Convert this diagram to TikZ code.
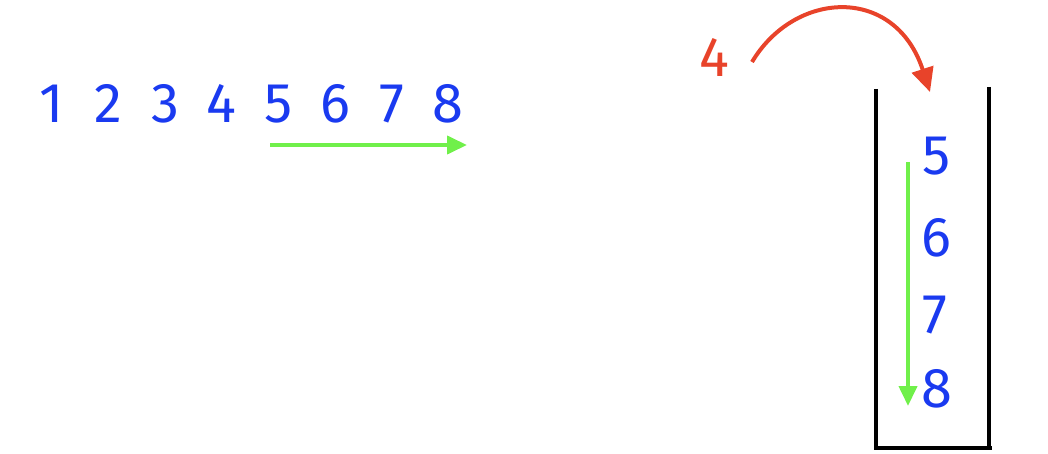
\documentclass[tikz,border=0pt]{standalone}
\usepackage{fontspec}
\setmainfont{Fira Sans}
\usetikzlibrary{positioning,arrows.meta}
\definecolor{colordigit}{RGB}{26,58,240}
\definecolor{colorflow} {RGB}{112,240,74}
\definecolor{colorjump} {RGB}{232,67,42}

\begin{document}
\begin{tikzpicture}[
    x=1pt, y=-1pt,
    font={\fontsize{56}{60}\selectfont},
    digit/.style={text=colordigit,anchor=base,inner sep=0pt},
    newone/.style={text=colorjump,anchor=base,inner sep=0pt},
    flow/.style={colorflow,line width=4pt,-{Triangle[length=20pt,width=18pt]}},
    jump/.style={colorjump,line width=4pt,-{Triangle[length=24pt,width=22pt]}},
    wall/.style={black,line width=4pt},
]
    \useasboundingbox (0,0) rectangle (1048,454);

    % Sequence
    \foreach \i in {1,...,8}
        \node[digit] (d\i) at ({52+56.6*(\i-1)},123) {\i};

    % Window
    \coordinate (w0) at (270,145);
    \coordinate (w1) at (467,145);
    \draw[flow] (w0) -- (w1);

    % Queue
    \coordinate (qtl) at (876,89);
    \coordinate (qbl) at (876,448);
    \coordinate (qbr) at (992,448);
    \coordinate (qtr) at (989,87);
    \coordinate (qend) at (989,450);
    \draw[wall] (qtl) -- (qbl) -- (qbr);
    \draw[wall] (qtr) -- (qend);

    \node[digit] (q5) at (937,175) {5};
    \node[digit] (q6) at (936,256) {6};
    \node[digit] (q7) at (935,333) {7};
    \node[digit] (q8) at (937,407) {8};

    \coordinate (f0) at (908,162);
    \coordinate (f1) at (908,406);
    \draw[flow] (f0) -- (f1);

    % Incoming element
    \node[newone] (in) at (714,77) {4};
    \coordinate (lift) at (752,62);
    \coordinate (drop) at (930,92);
    \draw[jump] (lift) .. controls (795,-10) and (895,-15) .. (drop);

\end{tikzpicture}
\end{document}
